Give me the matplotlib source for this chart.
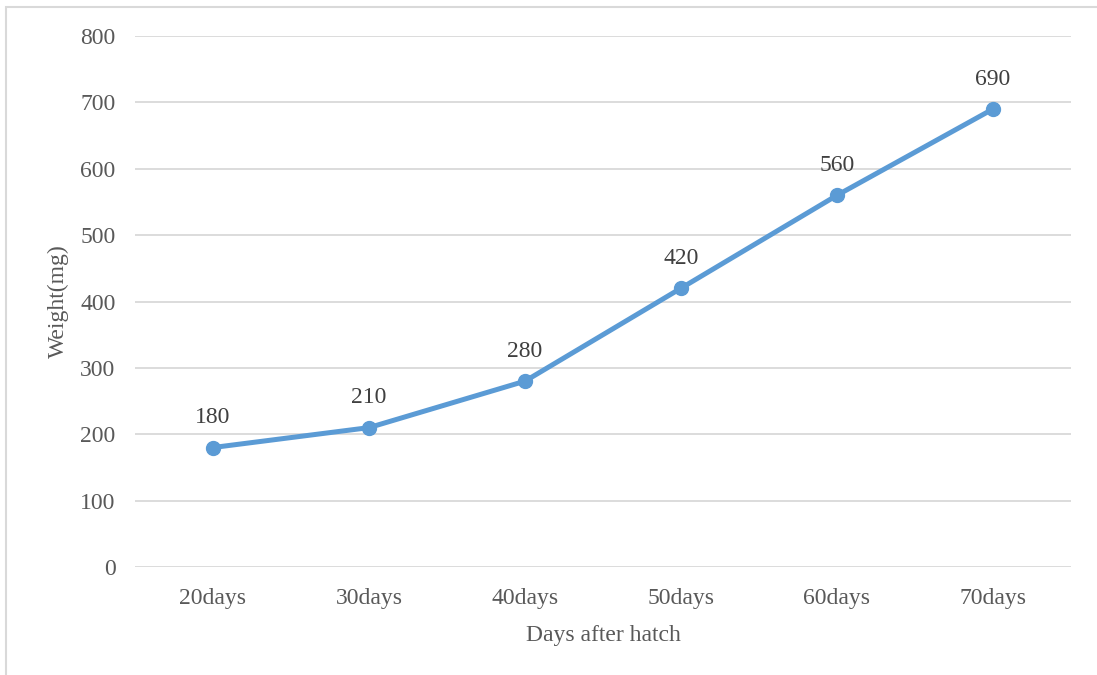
import matplotlib.pyplot as plt
from matplotlib.patches import Rectangle

days = ["20days", "30days", "40days", "50days", "60days", "70days"]
weight = [180, 210, 280, 420, 560, 690]
yticks = [0, 100, 200, 300, 400, 500, 600, 700, 800]

plt.rcParams["font.family"] = ["Liberation Serif", "DejaVu Serif"]

fig = plt.figure(figsize=(10.97, 6.75), dpi=100)
ax = fig.add_axes([135 / 1097, 1 - 567 / 675, 936 / 1097, 531 / 675])

# Rahmen um die Grafik (nur links/oben sichtbar)
fig.patches.append(Rectangle((5.5 / 1097, -0.1), 1.2, 1 - 6.5 / 675 + 0.1,
                             transform=fig.transFigure, fill=False,
                             edgecolor="#d9d9d9", lw=1.5))

x = range(len(days))
ax.plot(x, weight, color="#5b9bd5", lw=3.6, marker="o", ms=10, zorder=3)
for xi, w in zip(x, weight):
    ax.annotate(str(w), (xi, w), xytext=(0, 14), textcoords="offset points",
                ha="center", va="bottom", fontsize=17, color="#404040")

ax.set_xlim(-0.5, 5.5)
ax.set_ylim(0, 800)
ax.set_yticks(yticks)
ax.set_xticks(list(x))
ax.set_xticklabels(days)
ax.tick_params(length=0, labelsize=17, labelcolor="#595959")
ax.tick_params(axis="y", pad=14)
ax.tick_params(axis="x", pad=15)
ax.grid(axis="y", color="#d9d9d9", lw=1.3)
ax.set_axisbelow(True)
for s in ax.spines.values():
    s.set_visible(False)

ax.set_xlabel("Days after hatch", fontsize=17, color="#595959", labelpad=12)
ax.set_ylabel("Weight(mg)", fontsize=17, color="#595959", labelpad=8)

fig.savefig("out.png", dpi=100)
